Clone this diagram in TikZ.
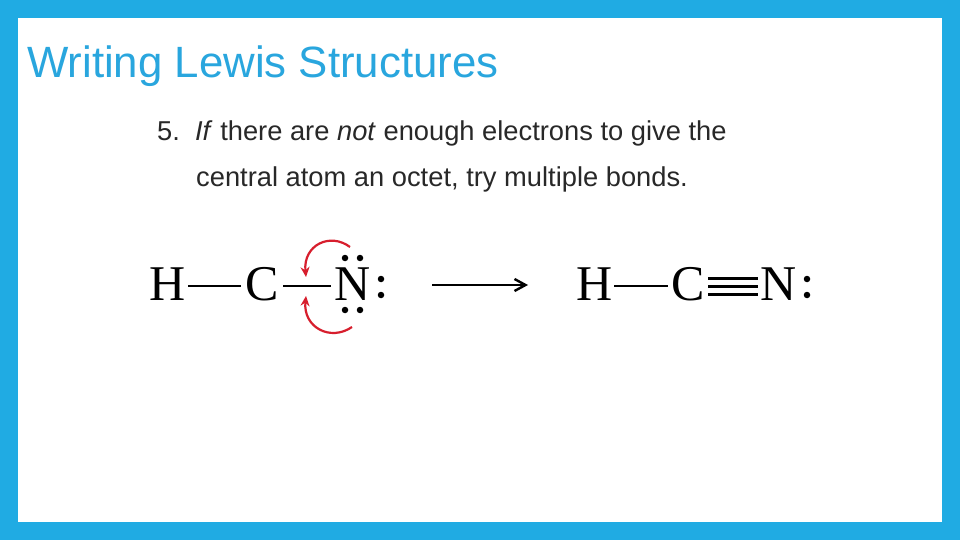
\documentclass[tikz,border=0pt]{standalone}
\usepackage{fontspec}
\setmainfont{Liberation Sans}
\newfontfamily\chem{Liberation Serif}
\usetikzlibrary{arrows.meta}
\definecolor{frame}{RGB}{32,171,227}
\definecolor{ttl}{RGB}{41,166,222}
\definecolor{txt}{RGB}{40,40,40}
\definecolor{arr}{RGB}{215,30,45}
\begin{document}
\begin{tikzpicture}[x=1pt,y=-1pt,
  atom/.style={font=\chem\fontsize{50}{50}\selectfont,inner sep=0pt,anchor=base},
  bond/.style={line width=2.8pt},
  dot/.style={circle,fill=black,inner sep=0pt,minimum size=6.5pt},
  redarr/.style={arr,line width=2.2pt,-{Stealth[length=10pt,width=9pt]}},
  body/.style={font=\fontsize{27.3}{27.3}\selectfont,txt,anchor=base west,inner sep=0pt}]
\fill[frame] (0,0) rectangle (960,540);
\fill[white] (18,18) rectangle (942,522);
\useasboundingbox (0,0) rectangle (960,540);
\node[font=\fontsize{43.8}{43.8}\selectfont,ttl,anchor=base west,inner sep=0pt] (title) at (27,78) {Writing Lewis Structures};
\node[body] (l1) at (157,141) {5.\ \ \textit{If} there are \textit{not} enough electrons to give the};
\node[body] (l2) at (196,186) {central atom an octet, try multiple bonds.};
% left structure
\node[atom] (H1) at (168,300) {H};
\node[atom] (C1) at (262,300) {C};
\node[atom] (N1) at (353,300) {N};
\coordinate (b1a) at (188,286); \coordinate (b1b) at (241,286);
\draw[bond] (b1a) -- (b1b);
\coordinate (b2a) at (283,286); \coordinate (b2b) at (331,286);
\draw[bond] (b2a) -- (b2b);
\node[dot] (d1) at (345,258) {}; \node[dot] (d2) at (360,258) {};
\node[dot] (d3) at (345,310) {}; \node[dot] (d4) at (360,310) {};
\node[dot] (d5) at (381,279) {}; \node[dot] (d6) at (381,295) {};
\coordinate (a1s) at (350,247); \coordinate (a1e) at (306,277);
\draw[redarr] (a1s) .. controls (330,232) and (303,245) .. (a1e);
\coordinate (a2s) at (352,327); \coordinate (a2e) at (306,296);
\draw[redarr] (a2s) .. controls (330,342) and (303,327) .. (a2e);
% reaction arrow
\coordinate (ra) at (432,285); \coordinate (rb) at (528,285);
\draw[line width=2.4pt,-{Straight Barb[length=11pt,width=12pt]}] (ra) -- (rb);
% right structure
\node[atom] (H2) at (595,300) {H};
\node[atom] (C2) at (688,300) {C};
\node[atom] (N2) at (779,300) {N};
\coordinate (b3a) at (614,286); \coordinate (b3b) at (668,286);
\draw[bond] (b3a) -- (b3b);
\foreach \yy in {278,286,294}{\draw[line width=3pt] (708,\yy) -- (758,\yy);}
\node[dot] (d7) at (807,279) {}; \node[dot] (d8) at (807,295) {};
\end{tikzpicture}
\end{document}
